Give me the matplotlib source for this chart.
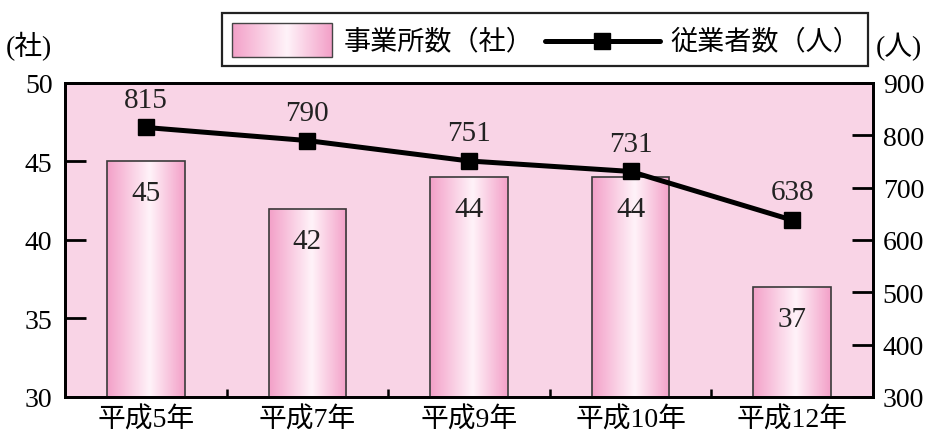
import numpy as np
import matplotlib
matplotlib.use("Agg")
import matplotlib.pyplot as plt
from matplotlib.colors import LinearSegmentedColormap
from matplotlib.patches import Rectangle
from matplotlib.lines import Line2D

plt.rcParams['font.family'] = ['Liberation Serif', 'Noto Sans CJK JP', 'DejaVu Sans']

# data
years = ["平成5年", "平成7年", "平成9年", "平成10年", "平成12年"]
establishments = [45, 42, 44, 44, 37]        # 事業所数（社）
employees = [815, 790, 751, 731, 638]         # 従業者数（人）
left_ticks = [30, 35, 40, 45, 50]
right_ticks = [300, 400, 500, 600, 700, 800, 900]

BG = "#F9D4E6"
EDGE_PINK = "#F3A0C8"
CENTER = "#FFF3F9"
grad_cmap = LinearSegmentedColormap.from_list(
    "barpink", [(0, EDGE_PINK), (0.55, CENTER), (1, EDGE_PINK)])
gradient = np.linspace(0, 1, 256).reshape(1, -1)

fig = plt.figure(figsize=(9.27, 4.35), dpi=100)
ax = fig.add_axes([0.0701, 0.0851, 0.8716, 0.7218])
ax.set_facecolor(BG)

ymin, ymax = 30, 50
x = np.arange(len(years))
bw = 0.48
bars = ax.bar(x, establishments, width=bw, bottom=0, color="none",
              edgecolor="#3a3a3a", linewidth=1.2, zorder=3)
for b in bars:
    x0 = b.get_x()
    top = b.get_y() + b.get_height()
    bot = max(b.get_y(), ymin)
    ax.imshow(gradient, cmap=grad_cmap, aspect="auto",
              extent=[x0, x0 + b.get_width(), bot, top],
              zorder=2, interpolation="bicubic")

for xi, v in zip(x, establishments):
    ax.annotate(str(v), (xi, v), xytext=(0, -23), textcoords="offset points",
                ha="center", va="center", fontsize=21, color="#222222", zorder=4)

ax.set_xlim(-0.5, len(years) - 0.5)
ax.set_ylim(ymin, ymax)
ax.set_yticks(left_ticks)
ax.set_xticks(x)
ax.set_xticklabels(years, fontsize=20)
ax.set_xticks(x[:-1] + 0.5, minor=True)
ax.tick_params(axis="x", which="major", length=0, pad=7)
ax.tick_params(axis="x", which="minor", direction="in", length=6, width=1.8)
ax.tick_params(axis="y", direction="in", length=15, width=2, labelsize=20, pad=9)
for s in ax.spines.values():
    s.set_linewidth(2)
    s.set_color("black")

ax2 = ax.twinx()
ax2.set_ylim(300, 900)
ax2.set_yticks(right_ticks)
ax2.tick_params(axis="y", direction="in", length=15, width=2, labelsize=20, pad=7)
ax2.tick_params(axis="y", which="minor", length=0)
for s in ax2.spines.values():
    s.set_linewidth(2)
ax2.plot(x, employees, color="black", linewidth=3.6, marker="s",
         markersize=11.5, zorder=5)
for xi, v in zip(x, employees):
    ax2.annotate(str(v), (xi, v), xytext=(0, 20), textcoords="offset points",
                 ha="center", va="center", fontsize=21, color="#222222")

fig.text(0.031, 0.893, "(社)", ha="center", va="center", fontsize=20)
fig.text(0.970, 0.893, "(人)", ha="center", va="center", fontsize=20)

# legend box
W, H = 927, 435
lax = fig.add_axes([0, 0, 1, 1], facecolor="none")
lax.set_xlim(0, W)
lax.set_ylim(H, 0)
lax.axis("off")
lax.add_patch(Rectangle((222, 14), 646, 53, facecolor="white",
                        edgecolor="#222222", linewidth=1.6))
sw = Rectangle((232, 24), 100, 34, facecolor="none", edgecolor="#444444",
               linewidth=1.0, zorder=3)
lax.add_patch(sw)
lax.imshow(gradient, cmap=grad_cmap, aspect="auto",
           extent=[232, 332, 58, 24], zorder=2, interpolation="bicubic")
lax.text(344, 42, "事業所数（社）", ha="left", va="center", fontsize=19.5)
lax.add_line(Line2D([545, 660], [42, 42], color="black", linewidth=3.6,
                    solid_capstyle="round"))
lax.plot([602], [42], marker="s", markersize=11.5, color="black")
lax.text(670, 42, "従業者数（人）", ha="left", va="center", fontsize=19.5)
lax.set_xlim(0, W)
lax.set_ylim(H, 0)

fig.savefig("out.png", dpi=100)
